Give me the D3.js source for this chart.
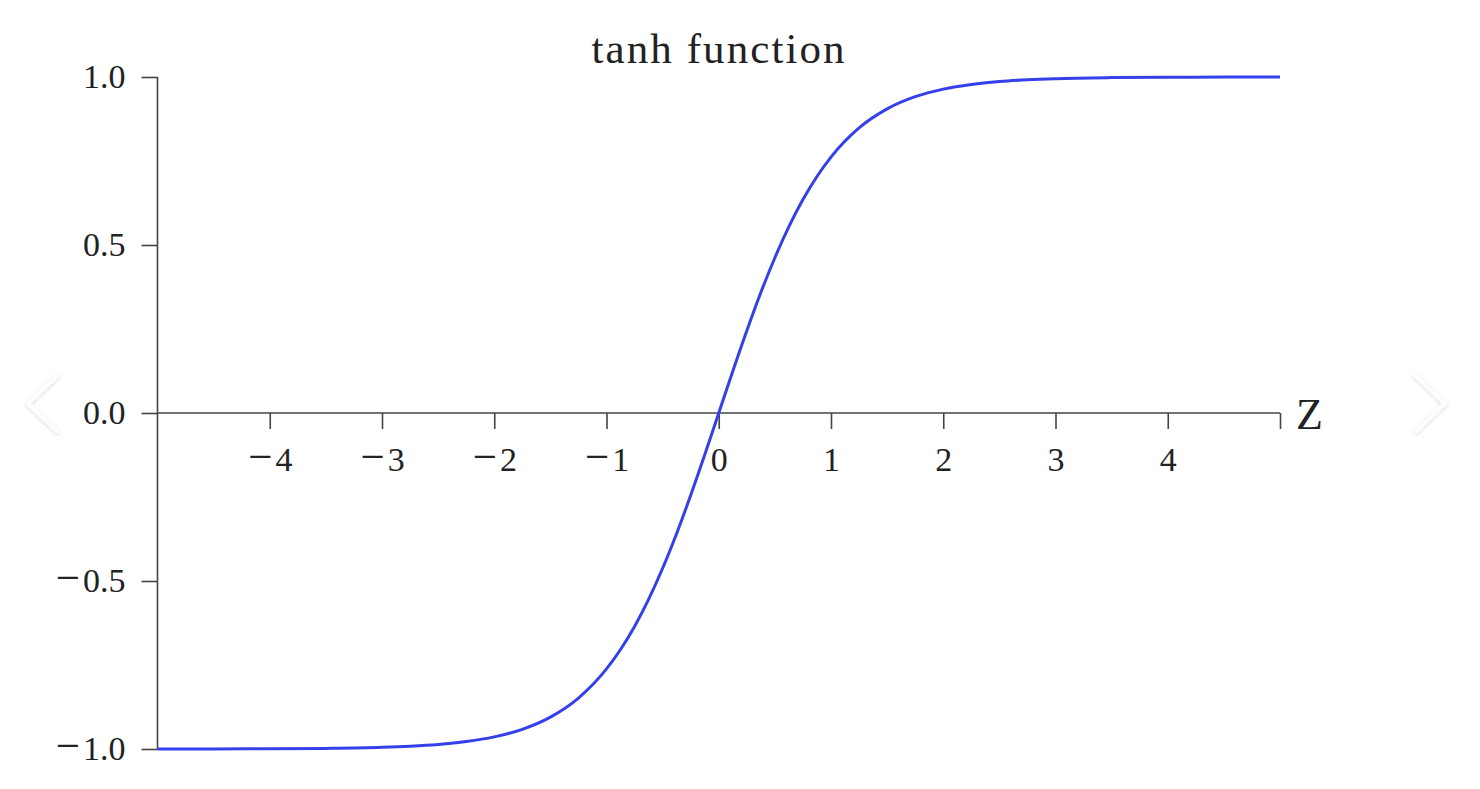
<!DOCTYPE html>
<html>
    <head>
        <meta charset="UTF-8" />
        <title>tanh function</title>
        <style>
            body { margin: 0; background: #fff; }
            text { font-family: "Liberation Serif", "DejaVu Serif", serif; fill: #222; }
        </style>
    </head>
    <body>
        <script src="https://d3js.org/d3.v7.min.js"></script>
        <script type="text/javascript">
            // values
            var zValues = [-5, -4.5, -4, -3.5, -3, -2.75, -2.5, -2.25, -2, -1.75, -1.5, -1.25, -1,
                -0.875, -0.75, -0.625, -0.5, -0.375, -0.25, -0.125, 0, 0.125, 0.25, 0.375, 0.5,
                0.625, 0.75, 0.875, 1, 1.25, 1.5, 1.75, 2, 2.25, 2.5, 2.75, 3, 3.5, 4, 4.5, 5];
            var tanhValues = [-0.9999, -0.9998, -0.9993, -0.9982, -0.9951, -0.9918, -0.9866, -0.978,
                -0.964, -0.9414, -0.9051, -0.8483, -0.7616, -0.7039, -0.6351, -0.5546, -0.4621,
                -0.3584, -0.2449, -0.1244, 0, 0.1244, 0.2449, 0.3584, 0.4621, 0.5546, 0.6351,
                0.7039, 0.7616, 0.8483, 0.9051, 0.9414, 0.964, 0.978, 0.9866, 0.9918, 0.9951,
                0.9982, 0.9993, 0.9998, 0.9999];
            var xTicks = [-4, -3, -2, -1, 0, 1, 2, 3, 4];
            var yTicks = [-1, -0.5, 0, 0.5, 1];

            var width = 1480, height = 789;

            var svg = d3.select("body").append("svg")
                .attr("width", width)
                .attr("height", height);

            var x = d3.scaleLinear().domain([-5, 5]).range([157.5, 1280]);
            var y = d3.scaleLinear().domain([-1, 1]).range([749, 77]);

            // y axis on the left
            var yAxis = d3.axisLeft(y)
                .tickValues(yTicks)
                .tickSize(16)
                .tickPadding(16)
                .tickFormat(d3.format(".1f"));
            var gy = svg.append("g")
                .attr("transform", "translate(" + x(-5) + ",0)")
                .call(yAxis);
            gy.select(".domain").attr("d", "M0," + y(1) + "V" + y(-1));

            // x axis through zero
            var xAxis = d3.axisBottom(x)
                .tickValues(xTicks.concat([5]))
                .tickSize(16)
                .tickPadding(18)
                .tickFormat(function(d) { return d === 5 ? "" : String(d); });
            var gx = svg.append("g")
                .attr("transform", "translate(0," + y(0) + ")")
                .call(xAxis);
            gx.select(".domain").attr("d", "M" + x(-5) + ",0H" + x(5));

            svg.selectAll(".domain, .tick line")
                .attr("stroke", "#444")
                .attr("stroke-width", 1.6);

            // LaTeX-like labels: the minus sign is drawn a bit longer
            svg.selectAll(".tick text")
                .style("font-family", "'Liberation Serif', serif")
                .style("font-size", "34px")
                .attr("fill", "#222")
                .each(function() {
                    var t = d3.select(this), s = t.text();
                    var c = s.charAt(0);
                    if (c !== "-" && c !== "\u2212") return;
                    t.text(null);
                    t.append("tspan").style("font-size", "43px").text("\u2212");
                    t.append("tspan").attr("dx", 3).text(s.slice(1));
                });

            // curve
            var line = d3.line()
                .x(function(d, i) { return x(zValues[i]); })
                .y(function(d) { return y(d); })
                .curve(d3.curveMonotoneX);

            svg.append("path")
                .datum(tanhValues)
                .attr("fill", "none")
                .attr("stroke", "#3441ea")
                .attr("stroke-width", 3)
                .attr("d", line);

            // title and axis name
            svg.append("text")
                .attr("x", 718)
                .attr("y", 63)
                .attr("text-anchor", "middle")
                .attr("textLength", 253)
                .style("font-size", "43px")
                .text("tanh function");

            svg.append("text")
                .attr("x", 1296)
                .attr("y", 429)
                .style("font-size", "44px")
                .text("Z");

            // faint carousel arrows at the sides
            var defs = svg.append("defs");
            defs.append("filter")
                .attr("id", "shadow")
                .attr("x", "-50%").attr("y", "-50%")
                .attr("width", "200%").attr("height", "200%")
                .append("feDropShadow")
                .attr("dx", 0).attr("dy", 1)
                .attr("stdDeviation", 1.5)
                .attr("flood-color", "#000")
                .attr("flood-opacity", 0.18);

            var arrows = [
                "M57,376L28,403.5L57,431",
                "M1416,376L1445,403.5L1416,431"
            ];
            svg.selectAll(".arrow")
                .data(arrows)
                .join("path")
                .attr("class", "arrow")
                .attr("d", function(d) { return d; })
                .attr("fill", "none")
                .attr("stroke", "#fdfdfd")
                .attr("stroke-width", 5)
                .attr("stroke-linecap", "round")
                .attr("stroke-linejoin", "round")
                .attr("filter", "url(#shadow)");
        </script>
    </body>
</html>
